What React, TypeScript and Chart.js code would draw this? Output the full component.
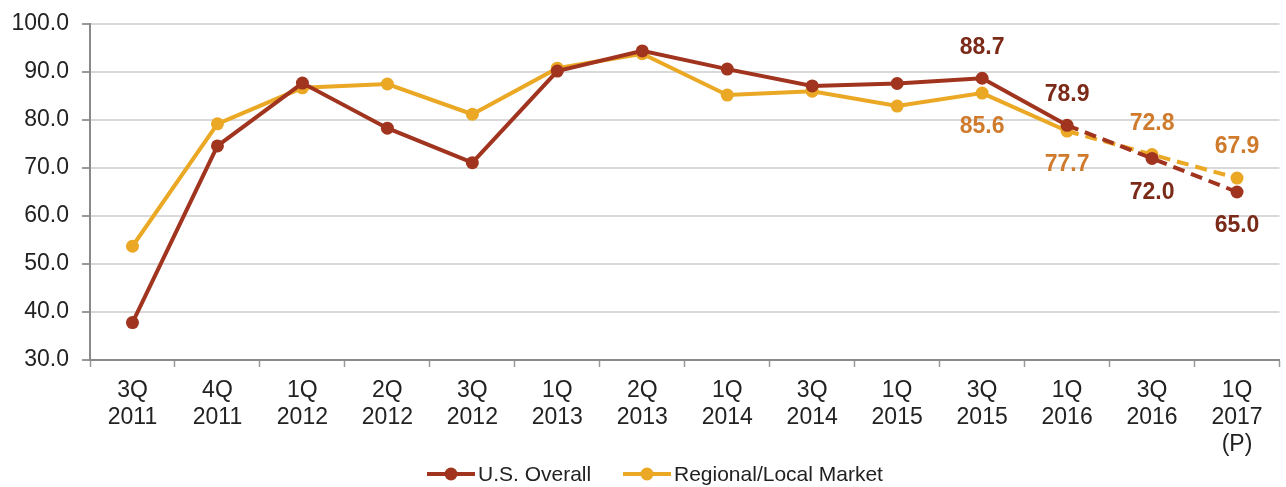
import React, { useEffect, useRef } from "react";
import { Chart, registerables } from "chart.js";

Chart.register(...registerables);

const categories: string[][] = [
  ["3Q", "2011"], ["4Q", "2011"], ["1Q", "2012"], ["2Q", "2012"], ["3Q", "2012"],
  ["1Q", "2013"], ["2Q", "2013"], ["1Q", "2014"], ["3Q", "2014"], ["1Q", "2015"],
  ["3Q", "2015"], ["1Q", "2016"], ["3Q", "2016"], ["1Q", "2017", "(P)"],
];
const usOverall = [37.8, 74.6, 87.7, 78.3, 71.1, 90.2, 94.4, 90.6, 87.1, 87.6, 88.7, 78.9, 72.0, 65.0];
const regional = [53.7, 79.2, 86.7, 87.5, 81.2, 90.8, 93.8, 85.2, 86.0, 82.9, 85.6, 77.7, 72.8, 67.9];
const seriesNames = ["U.S. Overall", "Regional/Local Market"];
const yTicks = { min: 30, max: 100, step: 10 };
const forecastStart = 11;
// label placement for annotated points: index -> "above" | "below"
const usLabelPos: Record<number, string> = { 10: "above", 11: "above", 12: "below", 13: "below" };
const regLabelPos: Record<number, string> = { 10: "below", 11: "below", 12: "above", 13: "above" };

const US_COLOR = "#A0341F";
const REG_COLOR = "#EAA825";
const US_LABEL = "#7B2A18";
const REG_LABEL = "#D07A2C";
const FONT = "'Liberation Sans', Arial, sans-serif";

export default function App() {
  const ref = useRef<HTMLCanvasElement | null>(null);
  useEffect(() => {
    if (!ref.current) return;
    const labelPlugin = {
      id: "valueLabels",
      afterDatasetsDraw(chart: any) {
        const ctx = chart.ctx;
        ctx.save();
        ctx.font = `bold 23px ${FONT}`;
        ctx.textAlign = "center";
        ctx.textBaseline = "middle";
        const cfgs = [
          { ds: 0, pos: usLabelPos, color: US_LABEL },
          { ds: 1, pos: regLabelPos, color: REG_LABEL },
        ];
        for (const c of cfgs) {
          const meta = chart.getDatasetMeta(c.ds);
          const data = chart.data.datasets[c.ds].data as number[];
          Object.keys(c.pos).forEach((k) => {
            const i = Number(k);
            const el = meta.data[i];
            const dy = c.pos[i] === "above" ? -31 : 34;
            ctx.fillStyle = c.color;
            ctx.fillText(data[i].toFixed(1), el.x, el.y + dy);
          });
        }
        ctx.restore();
      },
    };
    const legendPlugin = {
      id: "customLegend",
      afterDraw(chart: any) {
        const ctx = chart.ctx;
        ctx.save();
        const y = 474;
        const items = [
          { x: 427, color: US_COLOR, text: seriesNames[0] },
          { x: 623, color: REG_COLOR, text: seriesNames[1] },
        ];
        ctx.font = `21px ${FONT}`;
        ctx.textBaseline = "middle";
        ctx.textAlign = "left";
        for (const it of items) {
          ctx.strokeStyle = it.color;
          ctx.lineWidth = 4;
          ctx.beginPath();
          ctx.moveTo(it.x, y);
          ctx.lineTo(it.x + 48, y);
          ctx.stroke();
          ctx.fillStyle = it.color;
          ctx.beginPath();
          ctx.arc(it.x + 24, y, 6.5, 0, Math.PI * 2);
          ctx.fill();
          ctx.fillStyle = "#222";
          ctx.fillText(it.text, it.x + 51, y + 1);
        }
        ctx.restore();
      },
    };
    const dash = (ctx: any) => (ctx.p0DataIndex >= forecastStart ? [12, 7] : undefined);
    const chart = new Chart(ref.current, {
      type: "line",
      data: {
        labels: categories,
        datasets: [
          {
            label: seriesNames[0],
            data: usOverall,
            borderColor: US_COLOR,
            backgroundColor: US_COLOR,
            borderWidth: 4,
            pointRadius: 6.5,
            pointBackgroundColor: US_COLOR,
            pointBorderWidth: 0,
            segment: { borderDash: dash },
          },
          {
            label: seriesNames[1],
            data: regional,
            borderColor: REG_COLOR,
            backgroundColor: REG_COLOR,
            borderWidth: 4,
            pointRadius: 6.5,
            pointBackgroundColor: REG_COLOR,
            pointBorderWidth: 0,
            segment: { borderDash: dash },
          },
        ],
      },
      options: {
        animation: false,
        responsive: false,
        maintainAspectRatio: false,
        layout: { padding: { top: 24, right: 1, left: 0, bottom: 0 } },
        plugins: { legend: { display: false }, tooltip: { enabled: false } },
        scales: {
          x: {
            offset: true,
            grid: { offset: true, drawOnChartArea: false, color: "#999", tickLength: 7, tickWidth: 1.5 },
            border: { color: "#8a8a8a", width: 2 },
            ticks: { color: "#222", font: { family: FONT, size: 23, lineHeight: 1.17 }, padding: 10, maxRotation: 0, autoSkip: false },
            afterFit: (s: any) => { s.height = 127; s.paddingLeft = 0; s.paddingRight = 0; },
          },
          y: {
            min: yTicks.min,
            max: yTicks.max,
            ticks: {
              stepSize: yTicks.step,
              color: "#222",
              font: { family: FONT, size: 23 },
              padding: 13,
              callback: (v: any) => Number(v).toFixed(1),
            },
            grid: { color: "#d9d9d9", lineWidth: 2, tickColor: "#999", tickLength: 8 },
            border: { color: "#8a8a8a", width: 2 },
            afterFit: (s: any) => { s.width = 90; s.paddingTop = 0; s.paddingBottom = 0; },
          },
        },
      },
      plugins: [labelPlugin, legendPlugin],
    });
    return () => chart.destroy();
  }, []);
  return (
    <div style={{ position: "fixed", left: 0, top: 0, width: 1286, height: 487, background: "#fff" }}>
      <canvas ref={ref} width={1286} height={487} style={{ width: 1286, height: 487 }} />
    </div>
  );
}
